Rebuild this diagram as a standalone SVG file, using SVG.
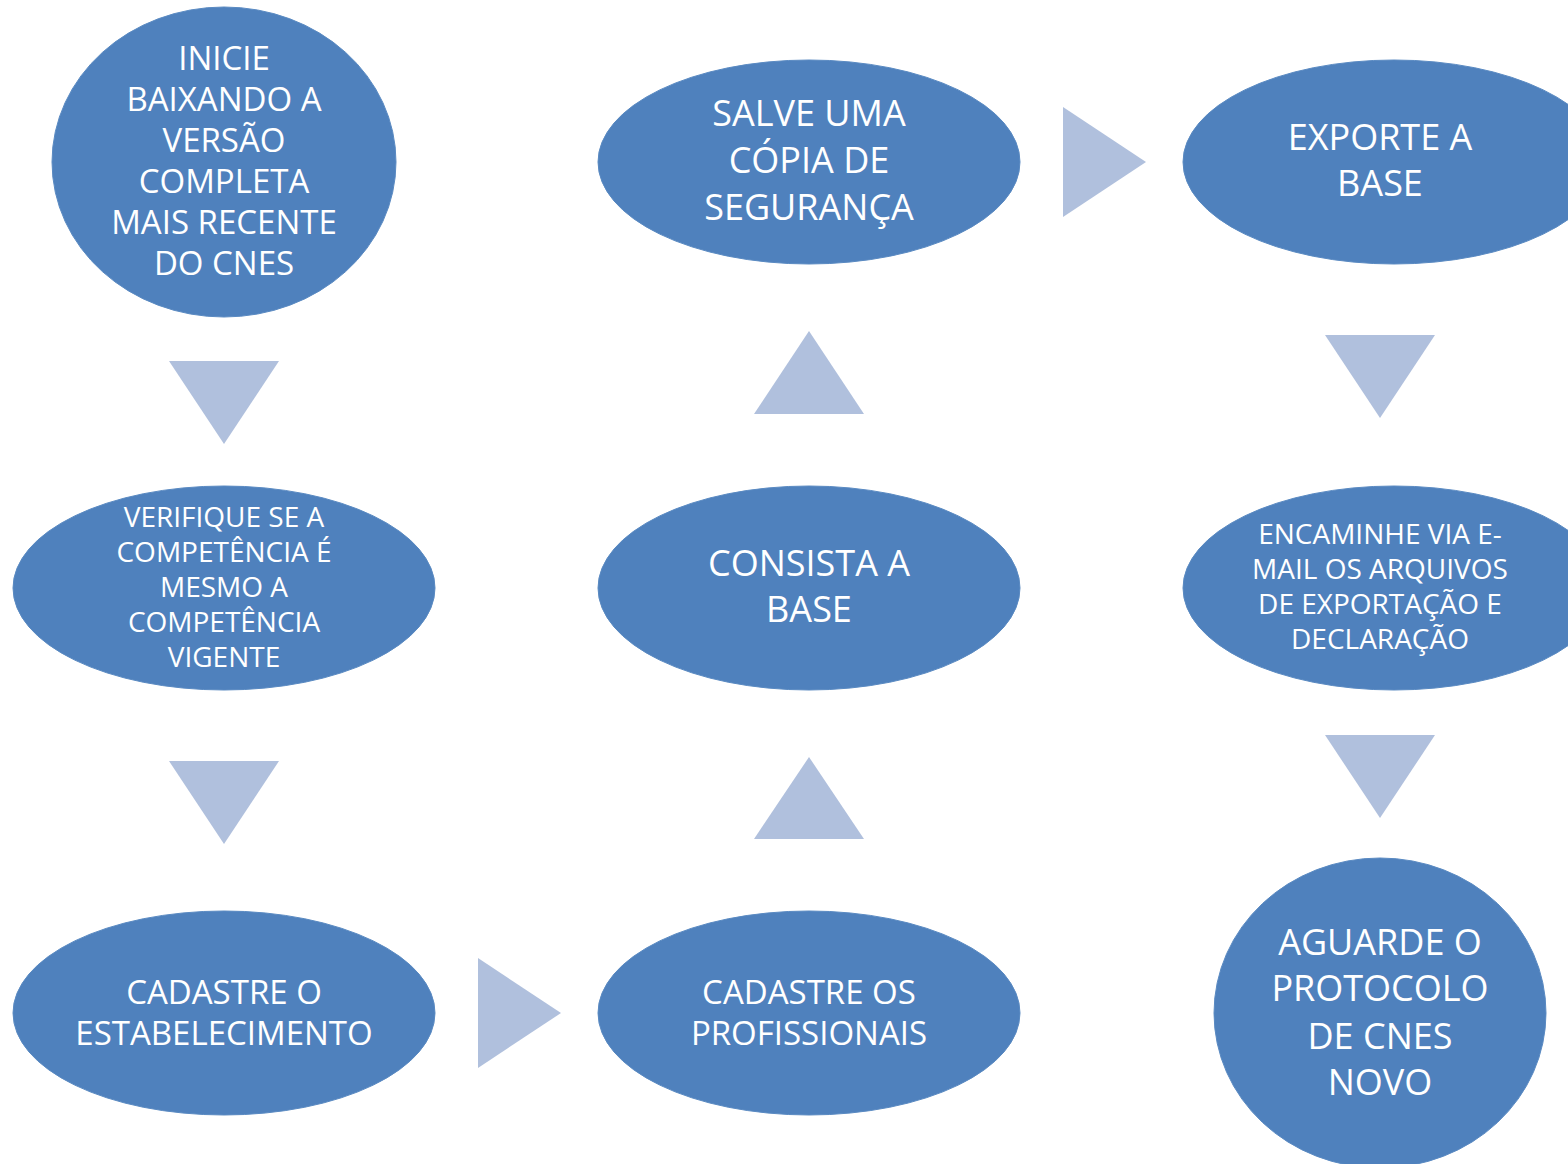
<svg xmlns="http://www.w3.org/2000/svg" width="1568" height="1164" viewBox="0 0 1568 1164">
<style>
.n{fill:#4F81BD;stroke:#5A8AC2;stroke-width:1}
.a{fill:#B0C0DD}
text{font-family:"Open Sans","Noto Sans",sans-serif;fill:#FFFFFF;text-anchor:middle}
.s33{font-size:33px}
.s28{font-size:28px}
.s36{font-size:36px}
</style>
<rect width="1568" height="1164" fill="#FFFFFF"/>
<g id="connectors">
<polygon class="a" points="169,361 279,361 224,444"/>
<polygon class="a" points="169,761 279,761 224,844"/>
<polygon class="a" points="478,958 478,1068 561,1013"/>
<polygon class="a" points="754,839 864,839 809,757"/>
<polygon class="a" points="754,414 864,414 809,331"/>
<polygon class="a" points="1063,107 1063,217 1146,162"/>
<polygon class="a" points="1325,335 1435,335 1380,418"/>
<polygon class="a" points="1325,735 1435,735 1380,818"/>
</g>
<g id="node-inicie">
<ellipse class="n" cx="224" cy="162" rx="172" ry="155"/>
<text class="s33"><tspan x="224" y="70">INICIE</tspan><tspan x="224" y="111">BAIXANDO A</tspan><tspan x="224" y="152">VERSÃO</tspan><tspan x="224" y="193">COMPLETA</tspan><tspan x="224" y="234">MAIS RECENTE</tspan><tspan x="224" y="275">DO CNES</tspan></text>
</g>
<g id="node-verifique">
<ellipse class="n" cx="224" cy="588" rx="211" ry="102"/>
<text class="s28"><tspan x="224" y="527">VERIFIQUE SE A</tspan><tspan x="224" y="562">COMPETÊNCIA É</tspan><tspan x="224" y="597">MESMO A</tspan><tspan x="224" y="632">COMPETÊNCIA</tspan><tspan x="224" y="667">VIGENTE</tspan></text>
</g>
<g id="node-estabelecimento">
<ellipse class="n" cx="224" cy="1013" rx="211" ry="102"/>
<text class="s33"><tspan x="224" y="1004">CADASTRE O</tspan><tspan x="224" y="1045">ESTABELECIMENTO</tspan></text>
</g>
<g id="node-profissionais">
<ellipse class="n" cx="809" cy="1013" rx="211" ry="102"/>
<text class="s33"><tspan x="809" y="1004">CADASTRE OS</tspan><tspan x="809" y="1045">PROFISSIONAIS</tspan></text>
</g>
<g id="node-consista">
<ellipse class="n" cx="809" cy="588" rx="211" ry="102"/>
<text class="s36"><tspan x="809" y="576">CONSISTA A</tspan><tspan x="809" y="622">BASE</tspan></text>
</g>
<g id="node-salve">
<ellipse class="n" cx="809" cy="162" rx="211" ry="102"/>
<text class="s36"><tspan x="809" y="126">SALVE UMA</tspan><tspan x="809" y="173">CÓPIA DE</tspan><tspan x="809" y="220">SEGURANÇA</tspan></text>
</g>
<g id="node-exporte">
<ellipse class="n" cx="1394" cy="162" rx="211" ry="102"/>
<text class="s36"><tspan x="1380" y="150">EXPORTE A</tspan><tspan x="1380" y="196">BASE</tspan></text>
</g>
<g id="node-encaminhe">
<ellipse class="n" cx="1394" cy="588" rx="211" ry="102"/>
<text class="s28"><tspan x="1380" y="544">ENCAMINHE VIA E-</tspan><tspan x="1380" y="579">MAIL OS ARQUIVOS</tspan><tspan x="1380" y="614">DE EXPORTAÇÃO E</tspan><tspan x="1380" y="649">DECLARAÇÃO</tspan></text>
</g>
<g id="node-aguarde">
<ellipse class="n" cx="1380" cy="1013" rx="166" ry="155"/>
<text class="s36"><tspan x="1380" y="955">AGUARDE O</tspan><tspan x="1380" y="1001">PROTOCOLO</tspan><tspan x="1380" y="1049">DE CNES</tspan><tspan x="1380" y="1095">NOVO</tspan></text>
</g>
</svg>
